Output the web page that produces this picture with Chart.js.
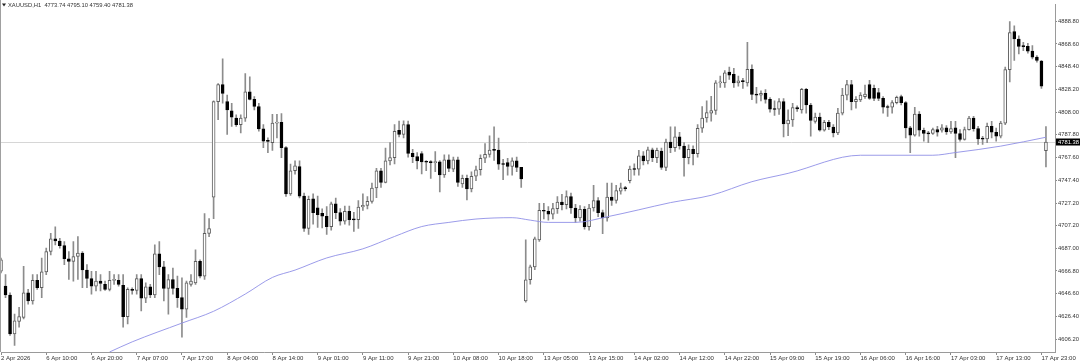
<!DOCTYPE html>
<html><head><meta charset="utf-8">
<script src="https://cdn.jsdelivr.net/npm/chart.js@4.4.1/dist/chart.umd.min.js"></script>
<style>html,body{margin:0;padding:0;background:#fff;}#wrap{width:1080px;height:364px;}</style>
</head><body><div id="wrap"><canvas id="c" width="1080" height="364"></canvas></div>
<script>
const symbolTitle = 'XAUUSD,H1';
const opens = [4666.6,4653.4,4645.5,4610.9,4622.0,4625.6,4647.5,4640.2,4658.4,4651.9,4666.0,4684.1,4695.3,4693.5,4689.4,4677.7,4675.4,4679.7,4682.7,4667.7,4660.1,4653.4,4657.8,4654.9,4650.5,4658.4,4658.4,4654.0,4626.2,4650.5,4649.6,4660.1,4642.6,4652.8,4645.5,4682.1,4670.4,4651.3,4659.2,4651.3,4643.1,4632.9,4654.9,4656.3,4675.4,4662.2,4700.2,4732.4,4817.4,4832.6,4817.4,4809.2,4802.7,4796.9,4802.7,4826.1,4819.4,4813.0,4793.1,4782.2,
4780.8,4798.3,4799.0,4776.4,4735.4,4755.9,4759.7,4733.3,4704.6,4731.0,4723.0,4718.0,4715.5,4706.1,4726.6,4718.7,4711.1,4719.9,4712.5,4712.5,4723.7,4725.1,4728.7,4740.6,4755.9,4745.6,4764.7,4767.6,4791.9,4788.1,4796.9,4771.4,4768.5,4771.1,4763.8,4763.5,4763.2,4763.8,4752.1,4765.6,4757.4,4765.6,4744.2,4749.2,4739.8,4751.0,4756.8,4767.0,4770.5,4774.3,4774.3,4761.8,4763.2,4759.7,4764.7,4758.9,
4640.2,4659.0,4670.4,4694.4,4720.8,4719.9,4717.3,4722.2,4728.1,4725.7,4733.0,4722.8,4714.0,4721.6,4706.1,4722.8,4729.5,4718.7,4714.0,4732.4,4729.5,4737.7,4740.4,4747.1,4757.4,4757.4,4769.1,4764.7,4774.4,4767.6,4773.5,4758.8,4781.4,4776.4,4786.1,4777.9,4767.6,4774.9,4771.1,4793.7,4802.8,4807.1,4809.5,4834.1,4834.1,4843.7,4841.7,4834.1,4835.8,4834.1,4846.1,4823.8,4823.2,4824.7,4819.4,4810.7,4810.7,4817.4,
4797.5,4801.0,4812.1,4810.0,4828.2,4814.4,4799.8,4803.6,4791.9,4798.9,4794.8,4789.5,4807.1,4823.2,4832.6,4817.4,4818.8,4821.8,4832.6,4829.1,4825.3,4820.3,4812.4,4812.4,4816.5,4821.8,4816.5,4794.0,4787.5,4806.2,4791.9,4789.0,4789.0,4792.5,4791.9,4794.0,4790.4,4794.0,4789.0,4783.7,4792.5,4802.7,4793.4,4784.3,4784.3,4795.4,4790.1,4786.6,4798.3,4845.8,4879.7,4873.0,4866.5,4866.5,4862.2,4856.9,4853.4,4773.74];
const highs = [4678.3,4663.6,4647.5,4628.5,4634.4,4670.9,4650.5,4663.6,4663.6,4678.3,4687.1,4700.2,4706.1,4695.9,4692.9,4684.1,4692.9,4697.3,4684.1,4672.4,4666.6,4666.6,4663.6,4657.8,4666.6,4663.6,4663.6,4663.6,4651.9,4651.9,4663.6,4663.6,4656.3,4654.9,4690.0,4692.9,4675.4,4663.6,4669.5,4662.2,4660.7,4657.8,4663.6,4685.6,4676.8,4717.8,4713.4,4818.0,4833.5,4855.4,4823.2,4815.9,4805.6,4805.6,4842.2,4839.3,4821.8,4815.9,4796.9,4785.2,
4806.0,4806.0,4806.7,4777.5,4761.8,4764.7,4764.7,4736.0,4733.3,4735.4,4733.3,4722.0,4724.0,4728.1,4731.6,4722.2,4724.5,4724.5,4719.0,4729.5,4735.4,4733.0,4745.0,4758.0,4758.0,4776.0,4781.0,4797.0,4800.0,4800.2,4800.0,4775.0,4772.0,4773.0,4765.0,4765.0,4773.0,4765.0,4770.0,4770.0,4768.0,4768.0,4752.0,4752.0,4755.0,4760.0,4770.0,4780.0,4787.0,4795.0,4785.0,4766.0,4767.0,4767.5,4768.0,4759.0,
4694.4,4672.0,4697.0,4727.0,4727.0,4724.0,4727.0,4733.0,4735.0,4738.0,4736.0,4726.0,4725.0,4724.0,4726.0,4743.0,4732.0,4721.0,4745.0,4745.0,4743.0,4745.0,4742.0,4760.0,4762.0,4774.0,4773.0,4777.0,4776.0,4776.0,4776.0,4784.0,4795.0,4795.0,4790.0,4781.0,4779.0,4778.0,4797.0,4813.0,4818.0,4822.0,4836.0,4840.0,4845.0,4848.0,4847.0,4840.0,4838.0,4870.0,4850.0,4830.0,4827.0,4828.0,4821.0,4818.0,4820.0,4820.0,
4810.0,4815.9,4813.6,4829.1,4829.1,4815.9,4807.1,4807.1,4800.7,4800.7,4796.9,4811.5,4829.1,4836.4,4836.4,4821.8,4825.3,4832.0,4836.4,4832.0,4829.1,4821.8,4814.4,4818.2,4822.3,4823.2,4817.4,4795.4,4812.4,4808.6,4793.9,4791.0,4793.9,4795.4,4796.9,4796.0,4799.8,4799.8,4792.5,4794.8,4804.2,4804.2,4795.4,4786.6,4798.3,4799.8,4793.9,4799.8,4848.1,4888.5,4884.7,4875.9,4870.1,4869.2,4867.1,4858.4,4854.0,4795.10];
const lows = [4665.1,4643.1,4609.5,4600.7,4616.8,4624.1,4637.3,4637.3,4650.5,4643.1,4663.6,4681.2,4690.0,4687.1,4672.4,4659.2,4657.8,4659.2,4651.9,4651.9,4646.1,4649.0,4649.0,4649.6,4649.0,4654.9,4653.4,4616.8,4619.7,4646.1,4646.1,4631.4,4638.7,4643.1,4643.1,4663.6,4640.2,4628.5,4646.1,4634.4,4608.0,4625.6,4653.4,4654.9,4660.7,4659.2,4697.3,4713.4,4801.3,4815.9,4788.1,4795.4,4795.4,4789.6,4799.8,4818.8,4810.0,4791.0,4776.4,4772.0,
4774.0,4785.0,4767.6,4733.0,4733.9,4752.9,4731.8,4702.0,4699.3,4708.4,4705.5,4705.0,4699.3,4703.1,4713.4,4707.6,4708.4,4707.6,4702.0,4704.6,4720.7,4722.0,4727.0,4732.0,4741.0,4745.0,4761.0,4762.0,4786.0,4785.0,4768.0,4763.0,4757.5,4753.0,4756.0,4749.0,4755.0,4737.0,4750.0,4755.0,4755.0,4742.0,4741.0,4730.0,4737.0,4747.0,4752.0,4763.0,4768.0,4765.0,4757.0,4748.0,4752.0,4752.0,4755.0,4741.0,
4639.0,4655.0,4668.0,4693.0,4713.0,4712.0,4713.0,4718.0,4721.0,4722.0,4718.0,4710.0,4711.0,4704.0,4703.0,4720.0,4715.0,4700.0,4711.0,4725.0,4727.0,4735.0,4738.0,4745.0,4752.0,4752.0,4761.0,4762.0,4764.0,4763.0,4757.0,4756.0,4772.0,4773.0,4775.0,4751.0,4762.0,4761.0,4768.0,4790.0,4799.0,4800.0,4806.0,4830.0,4830.0,4837.0,4830.0,4831.0,4829.0,4831.0,4819.0,4816.0,4818.0,4816.0,4808.0,4805.0,4806.0,4786.0,
4787.0,4795.4,4808.6,4807.1,4807.1,4786.6,4798.3,4791.0,4791.0,4792.5,4786.0,4788.0,4805.6,4818.8,4810.0,4811.5,4817.4,4820.3,4819.4,4818.2,4818.2,4807.1,4804.2,4807.1,4815.3,4814.4,4785.1,4772.0,4786.6,4786.6,4782.2,4780.8,4788.1,4786.6,4790.1,4788.1,4789.0,4767.6,4782.2,4783.1,4791.9,4791.0,4779.3,4779.3,4780.8,4785.1,4782.2,4785.1,4796.9,4834.9,4854.0,4859.8,4862.7,4860.4,4855.4,4852.5,4829.1,4759.40];
const closes = [4676.8,4645.5,4610.9,4622.6,4626.2,4647.5,4640.2,4658.4,4651.9,4666.0,4684.1,4695.3,4693.5,4689.4,4677.7,4675.4,4679.7,4682.7,4667.7,4660.1,4653.4,4657.8,4655.7,4650.5,4658.4,4658.7,4654.9,4626.2,4650.5,4649.6,4660.1,4642.6,4652.8,4645.5,4682.1,4670.4,4651.3,4659.2,4651.3,4643.1,4632.9,4656.3,4657.8,4675.4,4662.2,4700.2,4704.6,4817.4,4832.6,4824.7,4810.0,4803.6,4796.9,4802.7,4826.1,4819.4,4813.0,4793.1,4782.2,4782.0,
4798.3,4799.0,4776.4,4735.4,4755.9,4760.3,4733.3,4704.6,4730.4,4718.7,4716.9,4715.5,4706.1,4726.6,4718.7,4711.1,4719.9,4712.5,4712.2,4723.7,4725.1,4728.7,4740.6,4755.9,4745.6,4764.7,4767.6,4791.0,4788.1,4796.9,4771.4,4768.5,4764.7,4763.8,4763.5,4763.2,4763.8,4752.1,4765.6,4758.0,4765.6,4745.6,4749.2,4739.8,4751.0,4756.8,4767.0,4770.5,4774.3,4774.0,4761.8,4761.5,4759.7,4764.7,4758.9,4748.6,
4659.0,4670.4,4695.3,4720.8,4719.9,4717.3,4722.2,4728.1,4725.7,4733.0,4722.8,4714.0,4721.6,4706.1,4722.8,4729.5,4718.7,4714.0,4732.4,4729.5,4738.3,4740.7,4740.0,4757.4,4757.0,4769.1,4764.7,4774.4,4767.6,4774.1,4758.8,4781.4,4776.4,4786.1,4777.9,4767.6,4774.9,4771.1,4793.7,4802.8,4807.7,4809.5,4834.1,4834.7,4842.9,4840.8,4834.1,4835.8,4835.2,4846.1,4823.8,4823.2,4824.7,4819.4,4810.7,4810.4,4817.4,4797.5,
4801.0,4812.1,4810.9,4828.2,4814.4,4800.7,4803.6,4791.9,4798.9,4794.8,4789.5,4807.1,4823.2,4832.6,4817.4,4819.4,4823.2,4824.1,4820.3,4820.3,4820.3,4812.4,4812.1,4816.5,4821.2,4816.5,4794.0,4787.5,4806.2,4791.9,4789.0,4788.7,4792.5,4790.1,4794.0,4790.4,4793.4,4789.0,4783.7,4792.5,4802.7,4793.4,4784.3,4784.0,4795.4,4790.1,4786.6,4798.3,4845.8,4878.8,4873.0,4866.5,4866.2,4862.2,4856.9,4854.0,4831.1,4781.38];
// moving average read at sampled bars
const maBars   = [24,29,40,47,54,60,65,72,80,87,93,99,105,113,117,121,127,134,141,148,157,166,174,190,206,211,221,231];
const maValues = [4594.8,4603.8,4620.5,4631.0,4646.3,4661.1,4667.6,4678.4,4686.5,4697.5,4706.3,4710.0,4713.0,4714.2,4712.0,4710.0,4710.0,4715.0,4721.2,4727.6,4734.1,4746.2,4753.6,4769.7,4769.7,4772.1,4777.8,4785.7];
const priceTicks = [4888.80,4868.60,4848.40,4828.20,4808.00,4787.80,4767.60,4747.40,4727.20,4707.20,4687.00,4666.80,4646.60,4626.40,4606.20];
const timeLabels = ['2 Apr 2026','6 Apr 10:00','6 Apr 20:00','7 Apr 07:00','7 Apr 17:00','8 Apr 04:00','8 Apr 14:00','9 Apr 01:00','9 Apr 11:00','9 Apr 21:00','10 Apr 08:00','10 Apr 18:00','13 Apr 05:00','13 Apr 15:00','14 Apr 02:00','14 Apr 12:00','14 Apr 22:00','15 Apr 09:00','15 Apr 19:00','16 Apr 06:00','16 Apr 16:00','17 Apr 03:00','17 Apr 13:00','17 Apr 23:00'];
const barsPerTimeLabel = 10;
const emptyBarsRight = 2;
const priceMin = 4594.79, priceMax = 4903.72;

const nBars = opens.length;
const categories = Array.from({length: nBars + emptyBarsRight}, (_, i) => i);
const bodies = opens.map((o, i) => [o, closes[i]]);
const wicks = lows.map((l, i) => [l, highs[i]]);
const isBull = opens.map((o, i) => closes[i] >= o);
const maSeries = categories.map(() => null);
maBars.forEach((b, k) => { maSeries[b] = maValues[k]; });
const lastClose = closes[nBars - 1];
const header = symbolTitle + '  ' + [opens[nBars-1], highs[nBars-1], lows[nBars-1], closes[nBars-1]].map(v => v.toFixed(2)).join(' ');

const FONT = 'Liberation Sans, Arial, sans-serif';
const TXT = '#333';

const overlay = {
  id: 'overlay',
  beforeDatasetsDraw(chart) {
    const {ctx, chartArea: a, scales: {y}} = chart;
    const py = Math.round(y.getPixelForValue(lastClose)) + 0.5;
    ctx.save();
    ctx.strokeStyle = '#d6d6d6'; ctx.lineWidth = 1;
    ctx.beginPath(); ctx.moveTo(0, py); ctx.lineTo(a.right, py); ctx.stroke();
    ctx.restore();
  },
  afterDraw(chart) {
    const {ctx, chartArea: a, scales: {y}} = chart;
    ctx.save();
    ctx.strokeStyle = '#a0a0a0'; ctx.lineWidth = 1;
    ctx.beginPath(); ctx.moveTo(0.5, 0); ctx.lineTo(0.5, a.bottom); ctx.stroke();
    ctx.fillStyle = '#222';
    ctx.beginPath(); ctx.moveTo(2, 3.5); ctx.lineTo(6, 3.5); ctx.lineTo(4, 6.5); ctx.closePath(); ctx.fill();
    ctx.font = '5.8px ' + FONT; ctx.fillStyle = TXT; ctx.textBaseline = 'middle'; ctx.textAlign = 'left';
    ctx.fillText(header, 8, 5.5);
    const py = y.getPixelForValue(lastClose);
    ctx.fillStyle = '#000';
    ctx.fillRect(a.right + 1, Math.round(py) - 3.5, 1080 - a.right - 1, 7);
    ctx.fillStyle = '#fff';
    ctx.font = '5.8px ' + FONT;
    ctx.fillText(lastClose.toFixed(2), a.right + 3, Math.round(py) + 0.2);
    ctx.restore();
  }
};

new Chart(document.getElementById('c'), {
  type: 'bar',
  data: {
    labels: categories,
    datasets: [
      { type: 'line', label: 'MA', data: maSeries, spanGaps: true, borderColor: '#9090e6', borderWidth: 0.9,
        pointRadius: 0, cubicInterpolationMode: 'monotone', order: 0 },
      { label: 'body', data: bodies, grouped: false, barThickness: 3, minBarLength: 1,
        backgroundColor: isBull.map(b => b ? '#ffffff' : '#000000'),
        borderColor: isBull.map(b => b ? '#5e5e5e' : '#000000'),
        borderWidth: 1, borderSkipped: false, order: 1 },
      { label: 'wick', data: wicks, grouped: false, barThickness: 1, backgroundColor: '#8c8c8c',
        borderWidth: 0, order: 2 }
    ]
  },
  options: {
    responsive: false, animation: false, devicePixelRatio: 1,
    layout: { padding: { left: 1, right: 0, top: 0, bottom: 0 } },
    plugins: { legend: { display: false }, tooltip: { enabled: false } },
    scales: {
      x: {
        offset: false,
        grid: { offset: false, drawOnChartArea: false, drawTicks: true, tickLength: 3, color: '#8a8a8a' },
        border: { display: true, color: '#9a9a9a' },
        afterBuildTicks: s => { s.ticks = s.ticks.filter(t => t.value % barsPerTimeLabel === 0 && t.value / barsPerTimeLabel < timeLabels.length); },
        afterFit: s => { s.height = 12; },
        ticks: { autoSkip: false, maxRotation: 0, minRotation: 0, align: 'start', padding: 0,
          color: TXT, font: { family: FONT, size: 6 },
          callback: v => timeLabels[v / barsPerTimeLabel] }
      },
      y: {
        position: 'right', min: priceMin, max: priceMax,
        grid: { drawOnChartArea: false, drawTicks: true, tickLength: 2, color: '#8a8a8a' },
        border: { display: true, color: '#9a9a9a' },
        afterBuildTicks: s => { s.ticks = priceTicks.map(v => ({ value: v })); },
        afterFit: s => { s.width = 25; },
        ticks: { padding: 1, color: TXT, font: { family: FONT, size: 5.8 }, callback: v => v.toFixed(2) }
      }
    }
  },
  plugins: [overlay]
});
</script></body></html>
